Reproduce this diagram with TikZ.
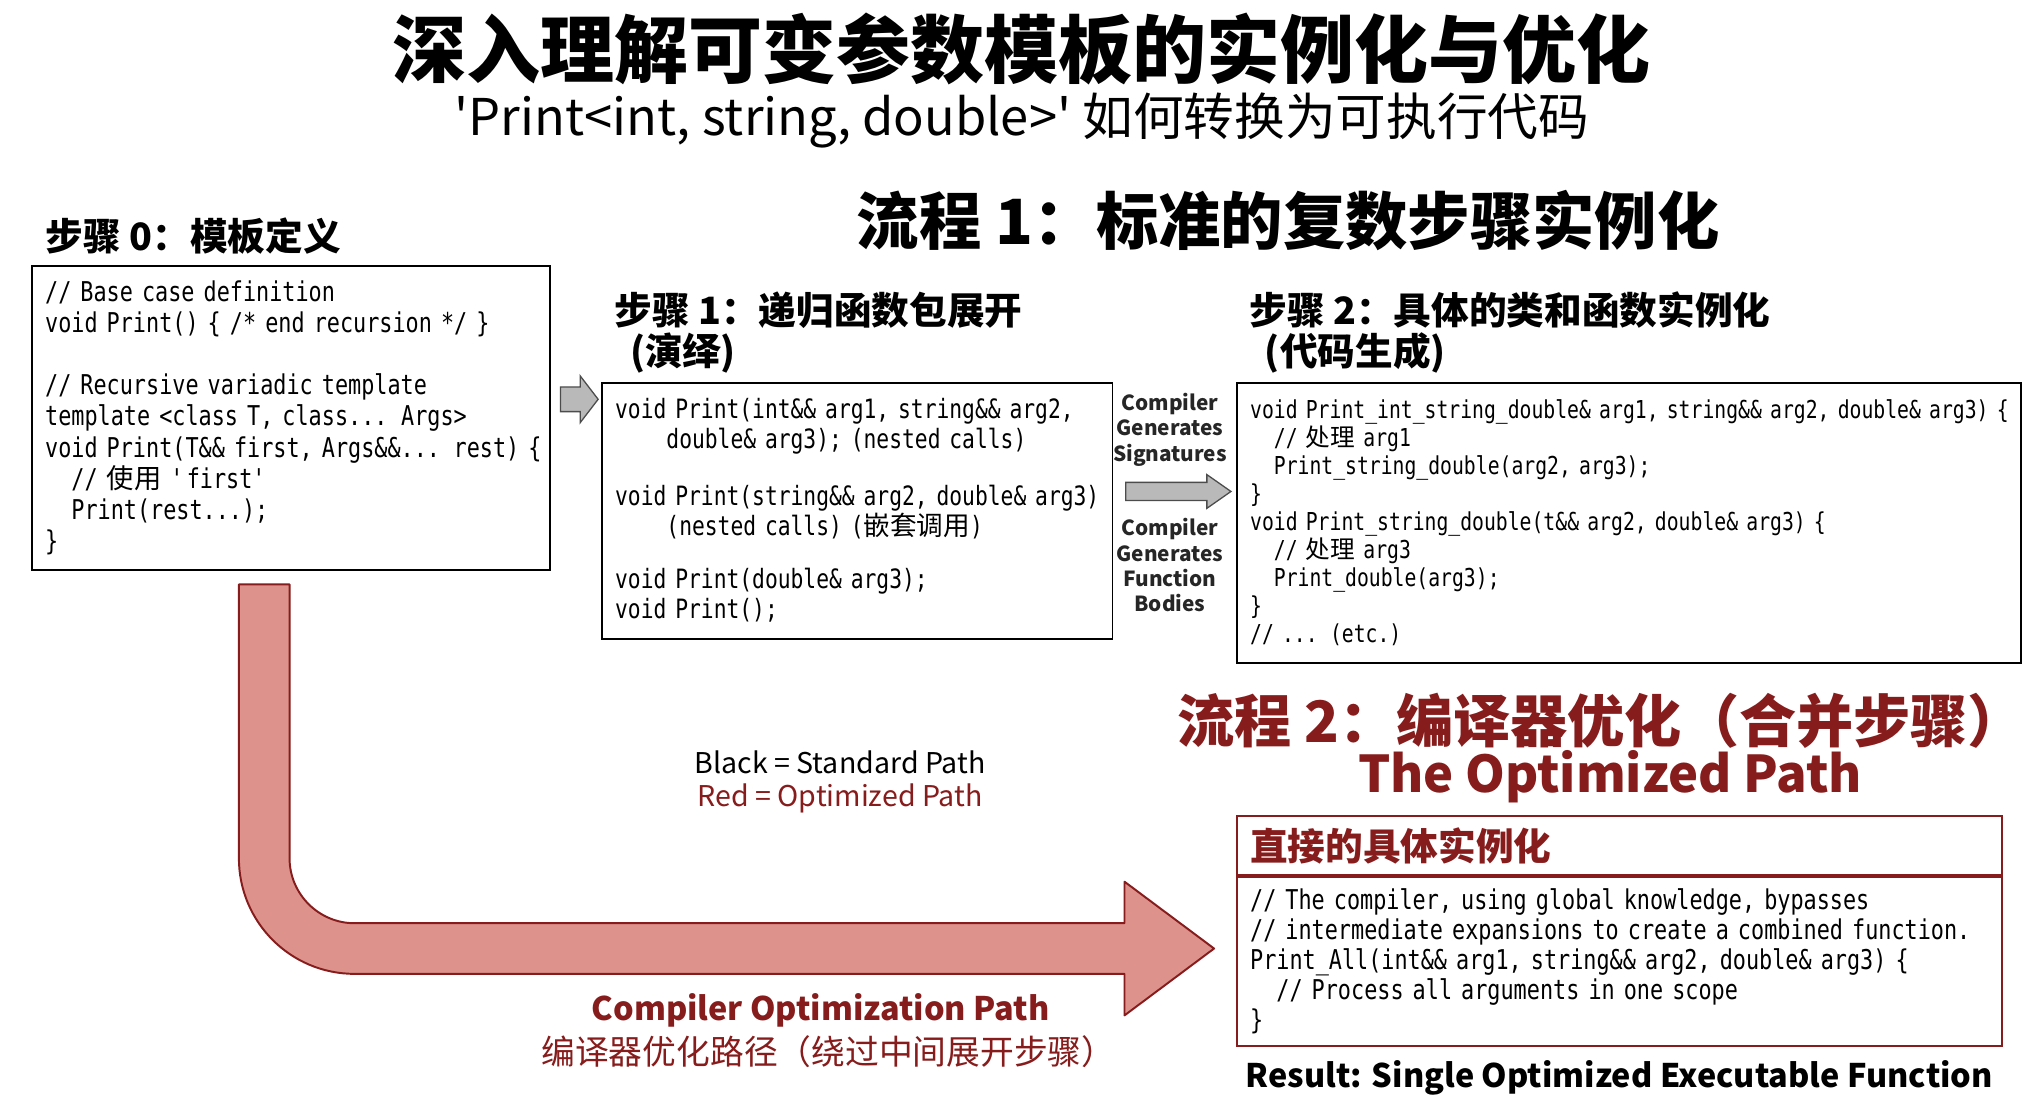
\documentclass[tikz,border=0pt]{standalone}
\usepackage{fontspec}
\setmainfont{Noto Sans CJK SC}
\newfontfamily\zhfont{Noto Sans CJK SC}
\newfontfamily\codefont[FakeStretch=0.8]{DejaVu Sans Mono}
\usetikzlibrary{positioning,shapes.arrows}
\definecolor{darkred}{RGB}{135,28,28}
\definecolor{arrowred}{RGB}{221,146,140}
\definecolor{arrowgray}{RGB}{185,185,185}
\newcommand{\zh}[1]{{\zhfont #1}}

\begin{document}
\begin{tikzpicture}[x=1pt, y=-1pt,
	codebox/.style={draw, line width=1.5pt, align=left, inner xsep=10pt, inner ysep=0pt, anchor=north west},
	steptitle/.style={font=\fontsize{29}{32}\selectfont\bfseries, align=left, anchor=west, inner sep=0pt},
	grayarrow/.style={single arrow, draw=black!70, line width=1pt, fill=arrowgray, inner xsep=0pt},
	sidelabel/.style={font=\fontsize{16}{19.5}\selectfont\bfseries, align=center, text=black!85}]
	\path[use as bounding box, fill=white] (0,0) rectangle (1568,856);

	\node[font=\fontsize{57}{60}\selectfont\bfseries] (title) at (787,38) {深入理解可变参数模板的实例化与优化};
	\node[font=\fontsize{39}{42}\selectfont] (subtitle) at (787,93) {\textquotesingle Print<int, string, double>\textquotesingle\ 如何转换为可执行代码};
	\node[font=\fontsize{48}{52}\selectfont\bfseries] (flow1) at (992,170) {流程 1：标准的复数步骤实例化};

	\node[steptitle] (title0) at (35,182) {步骤 0：模板定义};
	\node[steptitle] (title1) at (473,256) {步骤 1：递归函数包展开\\\hspace{12pt}(演绎)};
	\node[steptitle] (title2) at (962,256) {步骤 2：具体的类和函数实例化\\\hspace{12pt}(代码生成)};

	\node[codebox, text width=379pt, minimum height=234pt, font={\codefont\fontsize{21}{24}\selectfont}] (step0) at (24,204) {%
		// Base case definition\\
		void Print() \{ /* end recursion */ \}\\[24pt]
		// Recursive variadic template\\
		template <class T, class... Args>\\
		\mbox{void Print(T\&\& first, Args\&\&... rest) \{}\\
		\phantom{xx}// \zh{使用} \textquotesingle first\textquotesingle\\
		\phantom{xx}Print(rest...);\\
		\}};

	\node[codebox, text width=373pt, minimum height=197pt, font={\codefont\fontsize{20.5}{23}\selectfont}] (step1) at (463,294) {%
		\mbox{void Print(int\&\& arg1, string\&\& arg2,}\\
		\phantom{xxxx}double\& arg3); (nested calls)\\[21pt]
		\mbox{void Print(string\&\& arg2, double\& arg3)}\\
		\phantom{xxxx}(nested calls) (\zh{嵌套调用})\\[18pt]
		void Print(double\& arg3);\\
		void Print();};

	\node[codebox, text width=584pt, minimum height=216pt, font={\codefont\fontsize{19}{21.6}\selectfont}] (step2) at (952,294) {%
		\mbox{void Print\_int\_string\_double\& arg1, string\&\& arg2, double\& arg3) \{}\\
		\phantom{xx}// \zh{处理} arg1\\
		\phantom{xx}Print\_string\_double(arg2, arg3);\\
		\}\\
		void Print\_string\_double(t\&\& arg2, double\& arg3) \{\\
		\phantom{xx}// \zh{处理} arg3\\
		\phantom{xx}Print\_double(arg3);\\
		\}\\
		// ... (etc.)};

	\node[grayarrow, inner ysep=9pt, minimum height=29pt, minimum width=35pt, single arrow head extend=8.5pt, single arrow tip angle=105] (arr01) at (442.5,307.5) {};
	\node[grayarrow, inner ysep=6.5pt, minimum height=81pt, minimum width=25pt, single arrow head extend=6pt, single arrow tip angle=70] (arr12) at (902.5,378.5) {};
	\node[sidelabel] (sig) at (901,331) {Compiler\\Generates\\Signatures};
	\node[sidelabel] (bodies) at (901,435.5) {Compiler\\Generates\\Function\\Bodies};

	\node[font=\fontsize{44}{48}\selectfont\bfseries, text=darkred] (flow2) at (1233,555) {流程 2：编译器优化（合并步骤）};
	\node[font=\fontsize{39}{43}\selectfont\bfseries, text=darkred] (optpath) at (1240,598) {The Optimized Path};

	\node[codebox, draw=darkred, text width=569pt, minimum height=45pt, text=darkred, font=\fontsize{29}{32}\selectfont\bfseries] (direct) at (952,628) {直接的具体实例化};
	\node[codebox, draw=darkred, text width=569pt, minimum height=130pt, font={\codefont\fontsize{21}{23}\selectfont}] (combined) at (direct.south west) {%
		// The compiler, using global knowledge, bypasses\\
		\mbox{// intermediate expansions to create a combined function.}\\
		Print\_All(int\&\& arg1, string\&\& arg2, double\& arg3) \{\\
		\phantom{xx}// Process all arguments in one scope\\
		\}};
	\node[font=\fontsize{25}{30}\selectfont\bfseries] (result) at (1247,830) {Result: Single Optimized Executable Function};

	\node[font=\fontsize{22}{26}\selectfont] (legend1) at (647,587) {Black = Standard Path};
	\node[font=\fontsize{22}{26}\selectfont, text=darkred] (legend2) at (647,615) {Red = Optimized Path};

	\draw[draw=darkred, line width=1.5pt, fill=arrowred, line join=round]
		(184,450) -- (184,661) .. controls (184,710.2) and (223.8,750) .. (273,750)
		-- (866,750) -- (866,782) -- (935,730.5) -- (866,679) -- (866,711)
		-- (273,711) .. controls (245.4,711) and (223,688.4) .. (223,661)
		-- (223,450) -- cycle;
	\node[font=\fontsize{25}{30}\selectfont\bfseries, text=darkred] (optlabel) at (632,778) {Compiler Optimization Path};
	\node[font=\fontsize{26}{30}\selectfont, text=darkred] (optlabelzh) at (638,810) {编译器优化路径（绕过中间展开步骤）};
\end{tikzpicture}
\end{document}
